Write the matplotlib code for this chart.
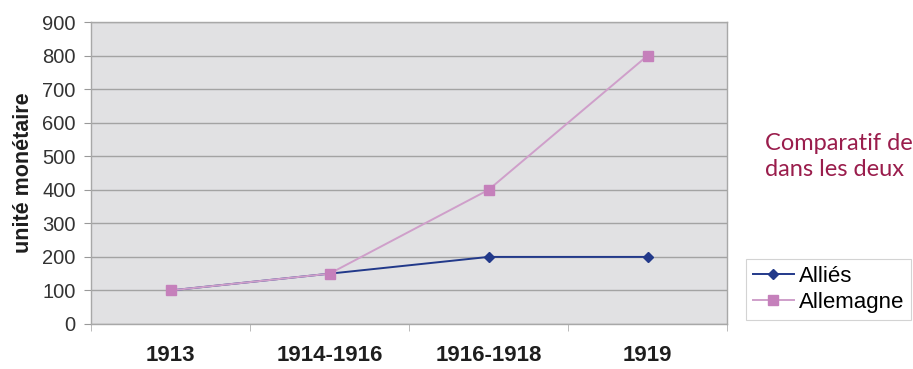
import numpy as np
import matplotlib.pyplot as plt

# Valeurs par période
periodes = ["1913", "1914-1916", "1916-1918", "1919"]
allies = [100, 150, 200, 200]
allemagne = [100, 150, 400, 800]
y_ticks = [0, 100, 200, 300, 400, 500, 600, 700, 800, 900]

plt.rcParams["font.family"] = ["Liberation Sans", "DejaVu Sans"]

fig = plt.figure(figsize=(9.13, 3.69), dpi=100)
ax = fig.add_axes([0.0997, 0.122, 0.6966, 0.818])

x = np.arange(len(periodes))
ax.set_facecolor("#e1e1e3")
ax.plot(x, allies, color="#22398a", marker="D", markersize=5.5, linewidth=1.4,
        label="Alliés", zorder=3)
ax.plot(x, allemagne, color="#cf9fca", marker="s", markersize=7,
        markerfacecolor="#c580bb", markeredgecolor="#c580bb", linewidth=1.4,
        label="Allemagne", zorder=4)

ax.set_xlim(-0.5, len(periodes) - 0.5)
ax.set_ylim(0, 900)
ax.set_yticks(y_ticks)
ax.set_xticks(x)
ax.set_xticks(np.arange(len(periodes) + 1) - 0.5, minor=True)
ax.set_xticklabels(periodes, fontsize=16, fontweight="bold", color="#1e1e1e")
ax.tick_params(axis="x", which="major", length=0, pad=15)
ax.tick_params(axis="x", which="minor", length=5, color="#b0b0b0")
ax.tick_params(axis="y", length=5, color="#999999", labelsize=14.5,
               labelcolor="#333333", pad=6)

ax.yaxis.grid(True, color="#a3a3a3", linewidth=1.0)
ax.set_axisbelow(True)
for s in ax.spines.values():
    s.set_color("#a8a8a8")
    s.set_linewidth(1.0)

ax.set_ylabel("unité monétaire", fontsize=15.5, fontweight="bold", color="#1e1e1e",
              labelpad=6)

fig.text(0.838, 0.577, "Comparatif de\ndans les deux", fontsize=17,
         color="#9a1d4c", family="Lato", linespacing=1.3, va="center")

leg = fig.legend(loc="lower left", bbox_to_anchor=(0.817, 0.133), frameon=True,
                 fontsize=16, handlelength=1.85, handletextpad=0.25,
                 borderpad=0.3, labelspacing=0.25, fancybox=False,
                 borderaxespad=0)
leg.get_frame().set_edgecolor("#c8c8c8")
leg.get_frame().set_linewidth(0.8)

fig.savefig("out.png", dpi=100)
